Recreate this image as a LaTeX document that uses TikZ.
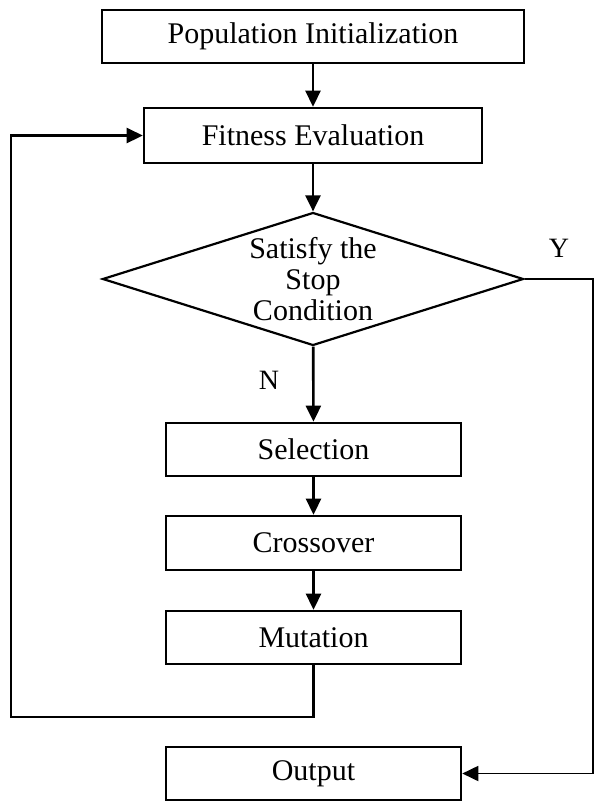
\documentclass[tikz,border=0pt]{standalone}
\usepackage{fontspec}
\setmainfont{Liberation Serif}
\usetikzlibrary{shapes.geometric,arrows.meta,positioning,calc}
\tikzset{
  procbox/.style={draw=black,fill=white,minimum height=53pt,inner sep=0pt,
                  font=\fontsize{30}{31}\selectfont,text centered,line width=2.6pt},
  decbox/.style={draw=black,diamond,aspect=3.17,minimum width=421pt,minimum height=133pt,
                 inner sep=0pt,font=\fontsize{30}{31}\selectfont,align=center,line width=2.2pt},
  arr/.style={-{Triangle[length=16pt,width=15pt]},line width=2.6pt},
  yarr/.style={-{Triangle[length=16pt,width=15pt]},line width=1.8pt},
  lbl/.style={font=\fontsize{28}{30}\selectfont,inner sep=0pt},
}
\begin{document}
\begin{tikzpicture}[x=1pt,y=-1pt]
    \useasboundingbox (0,0) rectangle (594,804);
    % Boxes
    \node[procbox, minimum width=422pt] (init) at (313,36.5) {Population Initialization};
    \node[procbox, minimum width=338pt, minimum height=55pt] (fit) at (313,135.5) {Fitness Evaluation};
    \node[decbox] (cond) at (313,279) {Satisfy the\\Stop\\Condition};
    \node[procbox, minimum width=295pt] (sel) at (313.5,449.5) {Selection};
    \node[procbox, minimum width=295pt, minimum height=54pt] (cro) at (313.5,543) {Crossover};
    \node[procbox, minimum width=295pt] (mut) at (313.5,637.5) {Mutation};
    \node[procbox, minimum width=295pt] (out) at (313.5,773.5) {Output};

    % Labels
    \node[lbl] (ylab) at (559,248) {Y};
    \node[lbl] (nlab) at (269,380) {N};

    % Loop corners
    \coordinate (loopa) at (313.5,717);
    \coordinate (loopb) at (11,717);
    \coordinate (loopc) at (11,135.5);
    \coordinate (ya) at (593,279);
    \coordinate (yb) at (593,773.5);

    % Arrows
    \draw[arr] (init) -- (fit);
    \draw[arr] (fit) -- (cond);
    \draw[arr] (cond) -- (sel);
    \draw[arr] (sel) -- (cro);
    \draw[arr] (cro) -- (mut);
    \draw[arr] (mut.south) -- (loopa) -- (loopb) -- (loopc) -- (fit.west);
    \draw[yarr] (cond.east) -- (ya) -- (yb) -- (out.east);
\end{tikzpicture}
\end{document}
